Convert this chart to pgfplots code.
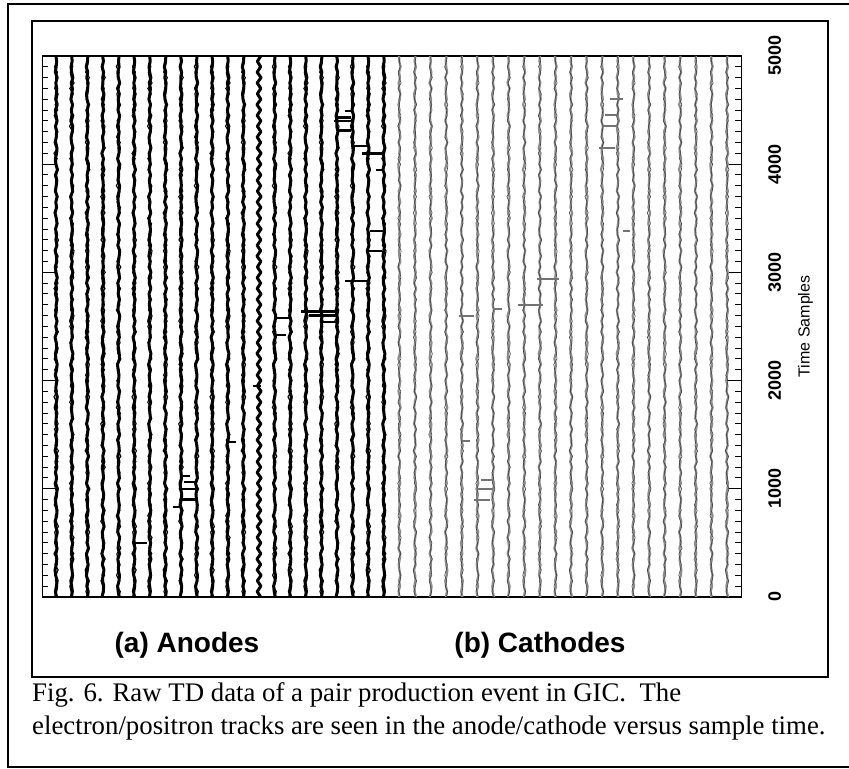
\documentclass[border=0pt]{standalone}
\usepackage{pgfplots}
\pgfplotsset{compat=1.18}
\usepackage{pgfplotstable}
\usepackage{fontspec}
\setmainfont{Liberation Serif}
\newfontfamily\arial{Liberation Sans}

\pgfplotstableread{
t a b c d e w
0 3 -4 1 -7 5 8
50 -6 5 7 2 -3 -9
100 2 -1 -5 6 -8 9
150 8 -8 3 -3 4 -8
200 -4 6 -8 -1 7 10
250 -9 2 0 8 -2 -9
300 1 -5 6 -5 0 8
350 5 9 -3 4 -6 -10
400 -2 -3 -7 -9 8 9
450 7 1 9 3 -4 -8
500 -5 7 -2 5 1 9
550 0 -6 4 -2 9 -9
600 9 -2 -6 -6 -7 8
650 -3 4 8 9 -3 -9
700 -8 -9 1 0 5 10
750 4 3 -9 -4 -8 -8
800 6 8 5 7 2 9
850 -1 -1 -1 -8 6 -9
900 -7 -5 3 2 -1 8
950 2 6 -4 6 -5 -10
1000 10 -7 8 -3 4 9
1050 -4 2 -7 -8 -9 -8
1100 3 5 2 4 7 10
1150 -6 -3 6 1 0 -9
1200 5 9 -3 -6 -4 8
1250 -2 -6 -5 7 3 -9
1300 8 0 9 -2 -7 9
1350 -9 4 -2 9 6 -8
1400 1 -8 4 -5 2 10
1450 4 3 -8 0 -6 -9
1500 -5 6 0 3 9 8
1550 7 -2 5 -7 -3 -9
1600 -3 -9 -6 8 -5 9
1650 0 5 3 -1 8 -10
1700 6 1 7 -4 -2 8
1750 -8 -4 -9 6 4 -8
1800 2 7 1 2 -8 9
1850 9 -6 -4 -9 1 -9
1900 -4 3 8 5 7 10
1950 -1 8 -1 -3 -6 -8
2000 5 -1 -7 7 0 9
2050 -7 -5 4 1 3 -9
2100 3 6 2 -6 -4 8
2150 8 -8 -5 4 -9 -9
2200 -2 2 9 -8 8 9
2250 -6 9 -3 3 5 -10
2300 4 -3 -6 8 -1 8
2350 1 -7 6 -2 -7 -9
2400 -9 4 1 -5 6 9
2450 6 0 -8 9 2 -8
2500 -3 5 3 -4 -8 10
2550 7 -9 -2 6 4 -9
2600 -5 2 7 0 9 8
2650 2 7 -9 -7 -5 -8
2700 0 -4 5 3 -2 9
2750 8 1 0 -1 7 -9
2800 -6 -6 -4 5 -3 10
2850 3 8 8 -9 1 -9
2900 -4 -2 -6 7 -6 8
2950 9 -5 2 2 8 -9
3000 -1 9 -3 -6 2 9
3050 -7 -3 9 4 -7 -8
3100 5 4 -7 -2 -1 9
3150 2 -7 1 8 5 -10
3200 -8 0 4 -5 9 8
3250 6 6 -5 1 -6 -9
3300 -2 -8 6 9 3 9
3350 4 3 -8 -4 -4 -8
3400 -5 5 2 -3 0 10
3450 7 -1 7 6 7 -9
3500 1 -6 -4 2 -9 8
3550 -9 8 -1 -8 6 -9
3600 3 -4 8 5 2 9
3650 -3 2 -6 -1 -3 -9
3700 8 -9 3 7 -7 10
3750 -6 7 5 -6 4 -8
3800 0 1 -9 3 8 8
3850 5 -3 2 0 -5 -9
3900 -4 6 -2 -7 1 9
3950 10 -7 6 8 -2 -10
4000 -2 3 9 -5 6 9
4050 -7 0 -5 4 -8 -8
4100 4 -5 1 -9 3 10
4150 6 9 -3 6 7 -9
4200 -8 -2 7 2 -4 8
4250 1 -6 -8 -3 -1 -9
4300 3 4 0 7 5 9
4350 -5 8 4 -2 -9 -8
4400 7 -8 -6 1 2 9
4450 -1 2 5 -8 8 -9
4500 -6 -3 -1 6 -5 8
4550 9 6 8 -4 1 -10
4600 -4 -7 -3 3 -3 9
4650 2 1 -7 8 6 -8
4700 5 5 2 -6 -8 9
4750 -3 -4 6 0 9 -9
4800 8 9 -5 -2 -2 10
4850 -7 -1 3 5 -6 -9
4900 0 -6 -9 -7 4 8
4950 4 3 1 4 0 -8
5000 -2 0 4 -3 3 9
}\noise

\begin{document}
\begin{tikzpicture}[x=1bp,y=1bp]
\useasboundingbox (0,0) rectangle (849,769);
\draw[line width=2bp] (849,765) -- (8,765) -- (8,2) -- (849,2);
\draw[line width=2.5bp] (32,748) rectangle (828,92);
\begin{axis}[
  at={(27,159)}, anchor=south west, scale only axis,
  width=699bp, height=541bp,
  xmin=-0.9, xmax=43.9, ymin=0, ymax=5000,
  xtick=\empty,
  ytick={0,1000,2000,3000,4000,5000},
  yticklabels={0,1000,2000,3000,4000,5000},
  minor y tick num=9,
  yticklabel pos=right, ytick pos=both,
  tick align=inside,
  major tick length=14bp, minor tick length=6bp,
  tick style={black, line width=1bp},
  axis line style={line width=1.2bp},
  yticklabel style={font=\arial\bfseries\fontsize{18bp}{18bp}\selectfont, rotate=90, anchor=north, inner sep=0pt},
  yticklabel shift=27bp,
  ylabel={Time Samples},
  ylabel style={font=\arial\fontsize{16bp}{16bp}\selectfont, at={(axis description cs:1.081,0.5)}, anchor=north, inner sep=0pt},
  anode/.style={black, line width=3bp, line join=round},
  anodeB/.style={black, line width=1.1bp, line join=miter},
  cathode/.style={black!45, line width=2.2bp, line join=round},
  cathodeB/.style={black!75, line width=0.6bp, line join=miter},
]
% anode traces (main stroke)
\pgfplotsinvokeforeach{0,5,10,15,20}{\addplot[anode] table[x expr=#1+0.008*\thisrow{a}, y=t]{\noise};}
\pgfplotsinvokeforeach{1,6,11,16,21}{\addplot[anode] table[x expr=#1+0.008*\thisrow{b}, y=t]{\noise};}
\pgfplotsinvokeforeach{2,7,12,17}{\addplot[anode] table[x expr=#1+0.008*\thisrow{c}, y=t]{\noise};}
\pgfplotsinvokeforeach{3,8,18}{\addplot[anode] table[x expr=#1+0.008*\thisrow{d}, y=t]{\noise};}
\pgfplotsinvokeforeach{4,9,14,19}{\addplot[anode] table[x expr=#1+0.008*\thisrow{e}, y=t]{\noise};}
\addplot[anode] table[x expr=13+0.013*\thisrow{w}, y=t]{\noise};
% anode traces (hairy stroke)
\pgfplotsinvokeforeach{0,5,10,15,20}{\addplot[anodeB] table[x expr=#1+0.016*\thisrow{d}, y=t]{\noise};}
\pgfplotsinvokeforeach{1,6,11,16,21}{\addplot[anodeB] table[x expr=#1+0.016*\thisrow{e}, y=t]{\noise};}
\pgfplotsinvokeforeach{2,7,12,17}{\addplot[anodeB] table[x expr=#1+0.016*\thisrow{a}, y=t]{\noise};}
\pgfplotsinvokeforeach{3,8,18}{\addplot[anodeB] table[x expr=#1+0.016*\thisrow{b}, y=t]{\noise};}
\pgfplotsinvokeforeach{4,9,14,19}{\addplot[anodeB] table[x expr=#1+0.016*\thisrow{c}, y=t]{\noise};}
% cathode traces (main stroke)
\pgfplotsinvokeforeach{25,30,35,40}{\addplot[cathode] table[x expr=#1-0.008*\thisrow{a}, y=t]{\noise};}
\pgfplotsinvokeforeach{26,31,36,41}{\addplot[cathode] table[x expr=#1-0.008*\thisrow{b}, y=t]{\noise};}
\pgfplotsinvokeforeach{22,27,32,37,42}{\addplot[cathode] table[x expr=#1-0.008*\thisrow{c}, y=t]{\noise};}
\pgfplotsinvokeforeach{23,28,33,38,43}{\addplot[cathode] table[x expr=#1-0.008*\thisrow{d}, y=t]{\noise};}
\pgfplotsinvokeforeach{24,29,34,39}{\addplot[cathode] table[x expr=#1-0.008*\thisrow{e}, y=t]{\noise};}
% cathode traces (dark speckle stroke)
\pgfplotsinvokeforeach{25,30,35,40}{\addplot[cathodeB] table[x expr=#1+0.012*\thisrow{c}, y=t]{\noise};}
\pgfplotsinvokeforeach{26,31,36,41}{\addplot[cathodeB] table[x expr=#1+0.012*\thisrow{d}, y=t]{\noise};}
\pgfplotsinvokeforeach{22,27,32,37,42}{\addplot[cathodeB] table[x expr=#1+0.012*\thisrow{e}, y=t]{\noise};}
\pgfplotsinvokeforeach{23,28,33,38,43}{\addplot[cathodeB] table[x expr=#1+0.012*\thisrow{a}, y=t]{\noise};}
\pgfplotsinvokeforeach{24,29,34,39}{\addplot[cathodeB] table[x expr=#1+0.012*\thisrow{b}, y=t]{\noise};}
% anode track hits
\addplot[black, line width=2.4bp, unbounded coords=jump] coordinates {
(5.0,500) (5.8,500) (5,nan)
(7.5,830) (8.0,830) (8,nan)
(8.0,900) (8.9,900) (8,nan)
(8.0,1000) (9.1,1000) (8,nan)
(8.2,1060) (9.0,1060) (8,nan)
(8.0,1120) (8.6,1120) (8,nan)
(11.0,1430) (11.5,1430) (11,nan)
(12.6,1950) (13.1,1950) (13,nan)
(14.0,2420) (14.7,2420) (14,nan)
(14.0,2580) (14.9,2580) (14,nan)
(15.7,2640) (18.1,2640) (15,nan)
(16.2,2600) (18.0,2600) (16,nan)
(17.0,2540) (18.0,2540) (17,nan)
(18.5,2920) (19.9,2920) (18,nan)
(19.9,3200) (20.9,3200) (19,nan)
(20.1,3380) (21.0,3380) (20,nan)
(20.5,3946) (21.0,3946) (20,nan)
(19.6,4100) (21.0,4100) (19,nan)
(18.9,4170) (19.9,4170) (18,nan)
(18.1,4310) (18.9,4310) (18,nan)
(17.8,4400) (18.9,4400) (17,nan)
(17.9,4430) (18.9,4430) (17,nan)
(18.5,4490) (18.9,4490)
};
% cathode track hits
\addplot[black!55, line width=2bp, unbounded coords=jump] coordinates {
(26.8,900) (27.8,900) (26,nan)
(27.0,1000) (28.0,1000) (27,nan)
(27.2,1080) (28.0,1080) (27,nan)
(26.0,1440) (26.5,1440) (26,nan)
(25.8,2600) (26.8,2600) (25,nan)
(28.0,2660) (28.6,2660) (28,nan)
(29.6,2700) (31.2,2700) (29,nan)
(30.8,2940) (32.2,2940) (30,nan)
(34.8,4150) (35.8,4150) (34,nan)
(35.0,4350) (36.0,4350) (35,nan)
(35.2,4450) (36.0,4450) (35,nan)
(35.5,4600) (36.3,4600) (35,nan)
(36.3,3380) (36.8,3380)
};
\end{axis}
\node[font=\arial\bfseries\fontsize{28bp}{30bp}\selectfont, anchor=base] at (187,116) {(a) Anodes};
\node[font=\arial\bfseries\fontsize{28bp}{30bp}\selectfont, anchor=base] at (540,116) {(b) Cathodes};
\node[font=\fontsize{26.8bp}{30bp}\selectfont, anchor=base west, inner sep=0pt] at (32,67) {Fig. 6. Raw TD data of a pair production event in GIC.\ \ The};
\node[font=\fontsize{26.8bp}{30bp}\selectfont, anchor=base west, inner sep=0pt] at (32,34) {electron/positron tracks are seen in the anode/cathode versus sample time.};
\end{tikzpicture}
\end{document}
